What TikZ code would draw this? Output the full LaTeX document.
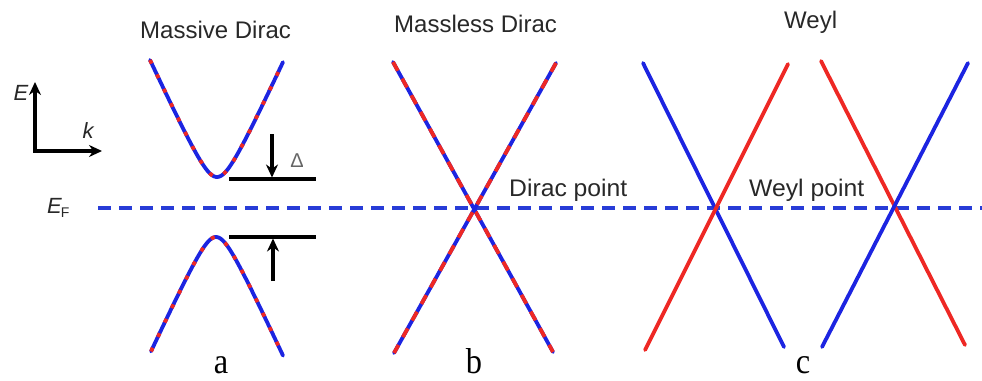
\documentclass[tikz,border=0pt]{standalone}
\usepackage{fontspec}
\setmainfont{Liberation Serif}
\setsansfont{Liberation Sans}
\usetikzlibrary{arrows.meta}
\definecolor{bblue}{RGB}{28,36,225}
\definecolor{rred}{RGB}{238,40,36}
\definecolor{fblue}{RGB}{40,60,215}
\definecolor{txt}{RGB}{40,40,40}
\tikzset{
  band/.style={line width=3.8pt, line cap=round},
  fermi/.style={fblue, line width=3.2pt, dash pattern=on 13pt off 8pt},
  ttl/.style={font=\sffamily\fontsize{24}{26}\selectfont, text=txt, inner sep=0pt, anchor=base west},
  ptl/.style={font=\sffamily\fontsize{24}{26}\selectfont, text=txt, inner sep=0pt, xscale=1.03, anchor=base west},
  lbl/.style={font=\fontsize{36}{40}\selectfont, text=black, inner sep=0pt, xscale=0.9, anchor=base},
  axis/.style={line width=3.4pt, -{Stealth[length=13pt,width=12pt]}},
  gapline/.style={line width=3.2pt},
  gaparrow/.style={line width=3.4pt, -{Stealth[length=13pt,width=12pt]}}
}
\begin{document}
\begin{tikzpicture}[x=1pt,y=-1pt]
\useasboundingbox (0,0) rectangle (982,380);
% Fermi level
\coordinate (f0) at (98,208);
\coordinate (f1) at (982,208);
\draw[fermi] (f0) -- (f1);
\node[font=\sffamily\itshape\fontsize{22}{24}\selectfont, text=txt, inner sep=0pt, anchor=base west] (ef) at (47,213) {E\kern-1pt\raisebox{-0.22em}{\upshape\fontsize{14}{15}\selectfont F}};
% axes
\coordinate (o) at (35,151);
\coordinate (ey) at (35,82);
\coordinate (kx) at (102,151);
\draw[axis] (o) -- (ey);
\draw[axis] ([xshift=-1.7pt]o) -- (kx);
\node[font=\sffamily\itshape\fontsize{22}{24}\selectfont, text=txt, inner sep=0pt] (E) at (21,93) {E};
\node[font=\sffamily\itshape\fontsize{22}{24}\selectfont, text=txt, inner sep=0pt] (k) at (88,131) {k};
% titles
\node[ttl] (t1) at (140,38) {Massive Dirac};
\node[ttl] (t2) at (394,32) {Massless Dirac};
\node[ttl] (t3) at (784,28) {Weyl};
% massive Dirac
\draw[band, bblue] plot[domain=-67:66, samples=90] ({217+\x}, {208-10*sqrt(9.61+(0.216*\x)^2)});
\draw[band, rred, line cap=butt, dash pattern=on 4pt off 12pt] plot[domain=-67:66, samples=90] ({217+\x}, {208-10*sqrt(9.61+(0.216*\x)^2)});
\draw[band, bblue] plot[domain=-65:67, samples=90] ({216+\x}, {208+10*sqrt(8.41+(0.216*\x)^2)});
\draw[band, rred, line cap=butt, dash pattern=on 4pt off 12pt] plot[domain=-65:67, samples=90] ({216+\x}, {208+10*sqrt(8.41+(0.216*\x)^2)});
\coordinate (g1a) at (229,179);
\coordinate (g1b) at (316,179);
\coordinate (g2a) at (229,237);
\coordinate (g2b) at (316,237);
\draw[gapline] (g1a) -- (g1b);
\draw[gapline] (g2a) -- (g2b);
\coordinate (d1) at (272,134);
\coordinate (d1e) at (272,177.5);
\coordinate (d2) at (273,281);
\coordinate (d2e) at (273,238.5);
\draw[gaparrow] (d1) -- (d1e);
\draw[gaparrow] (d2) -- (d2e);
\node[font=\sffamily\fontsize{20}{22}\selectfont, text=gray!80!black, inner sep=0pt] (delta) at (297,161) {Δ};
% massless Dirac
\coordinate (m1) at (393,62);
\coordinate (m2) at (553,352);
\coordinate (m3) at (556,63);
\coordinate (m4) at (394,353);
\draw[band, bblue] (m1) -- (m2);
\draw[band, rred, line cap=butt, dash pattern=on 10pt off 9pt] (m1) -- (m2);
\draw[band, bblue] (m3) -- (m4);
\draw[band, rred, line cap=butt, dash pattern=on 10pt off 9pt] (m3) -- (m4);
\node[ptl] (dp) at (509,196) {Dirac point};
% Weyl
\coordinate (w1) at (643,63);
\coordinate (w2) at (784,347);
\coordinate (w3) at (788,64);
\coordinate (w4) at (645,350);
\coordinate (w5) at (821,61);
\coordinate (w6) at (965,345);
\coordinate (w7) at (968,63);
\coordinate (w8) at (822,347);
\draw[band, bblue] (w1) -- (w2);
\draw[band, rred] (w3) -- (w4);
\draw[band, rred] (w5) -- (w6);
\draw[band, bblue] (w7) -- (w8);
\node[ptl] (wp) at (749,196) {Weyl point};
% panel labels
\node[lbl] (la) at (221,373) {a};
\node[lbl] (lb) at (474,373) {b};
\node[lbl] (lc) at (803,373) {c};
\end{tikzpicture}
\end{document}
